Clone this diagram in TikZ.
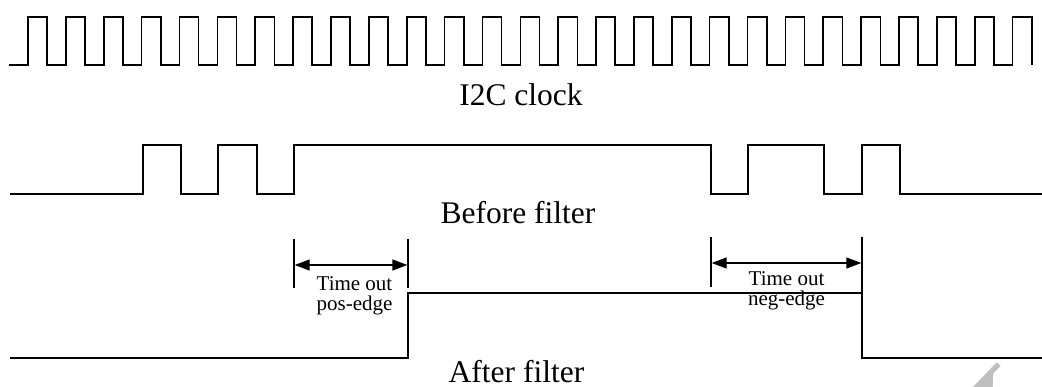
\documentclass[tikz,border=0pt]{standalone}
\usepackage{fontspec}
\setmainfont{Liberation Serif}
\usetikzlibrary{arrows.meta}
\begin{document}
\begin{tikzpicture}[x=1pt,y=-1pt,
  wave/.style={line width=1.6pt, line join=miter},
  bar/.style={line width=1.4pt},
  dim/.style={line width=1.4pt, {Triangle[length=15pt,width=11pt]}-{Triangle[length=15pt,width=11pt]}, shorten <=0.7pt, shorten >=0.7pt},
  bigtxt/.style={font=\fontsize{31.5}{33}\selectfont, anchor=base, inner sep=0pt},
  smalltxt/.style={font=\fontsize{21}{20.5}\selectfont, align=center, anchor=base, inner sep=0pt}]
\useasboundingbox (0,0) rectangle (1042,387);
% I2C clock
\draw[wave] (9,65) foreach \k in {0,...,26} { -- ({28+37.87*\k},65) -- ++(0,-48) -- ++(19.2,0) -- ++(0,48) };
\node[bigtxt] (clk) at (521,106) {I2C clock};
% Before filter
\draw[wave] (10,194) -- (143,194) -- (143,145) -- (181,145) -- (181,194) -- (218,194) -- (218,145) -- (257,145) -- (257,194) -- (294,194) -- (294,145) -- (711,145) -- (711,194) -- (748,194) -- (748,145) -- (824,145) -- (824,194) -- (862,194) -- (862,145) -- (900,145) -- (900,194) -- (1042,194);
\node[bigtxt] (bf) at (518,224) {Before filter};
% After filter
\draw[wave] (10,358) -- (408,358) -- (408,293) -- (862,293) -- (862,358) -- (1042,358);
\node[bigtxt] (af) at (516.5,382) {After filter};
% pos-edge timeout
\coordinate (p1t) at (294,239); \coordinate (p1b) at (294,288);
\coordinate (p2t) at (408,239); \coordinate (p2b) at (408,288);
\draw[bar] (p1t) -- (p1b);
\draw[bar] (p2t) -- (p2b);
\coordinate (pa) at (294,265); \coordinate (pb) at (408,265);
\draw[dim] (pa) -- (pb);
\node[smalltxt] (pt) at (354.5,311) {Time out\\pos-edge};
% neg-edge timeout
\coordinate (n1t) at (711,237); \coordinate (n1b) at (711,287);
\coordinate (n2t) at (862,237); \coordinate (n2b) at (862,293);
\draw[bar] (n1t) -- (n1b);
\draw[bar] (n2t) -- (n2b);
\coordinate (na) at (711,263); \coordinate (nb) at (862,263);
\draw[dim] (na) -- (nb);
\node[smalltxt] (nt) at (786.5,306) {Time out\\neg-edge};
% watermark fragment
\fill[black!25] (973,387) -- (996.7,362.3) -- (1000.7,366) -- (993.3,373.3) -- (992.7,387) -- cycle;
\end{tikzpicture}
\end{document}
